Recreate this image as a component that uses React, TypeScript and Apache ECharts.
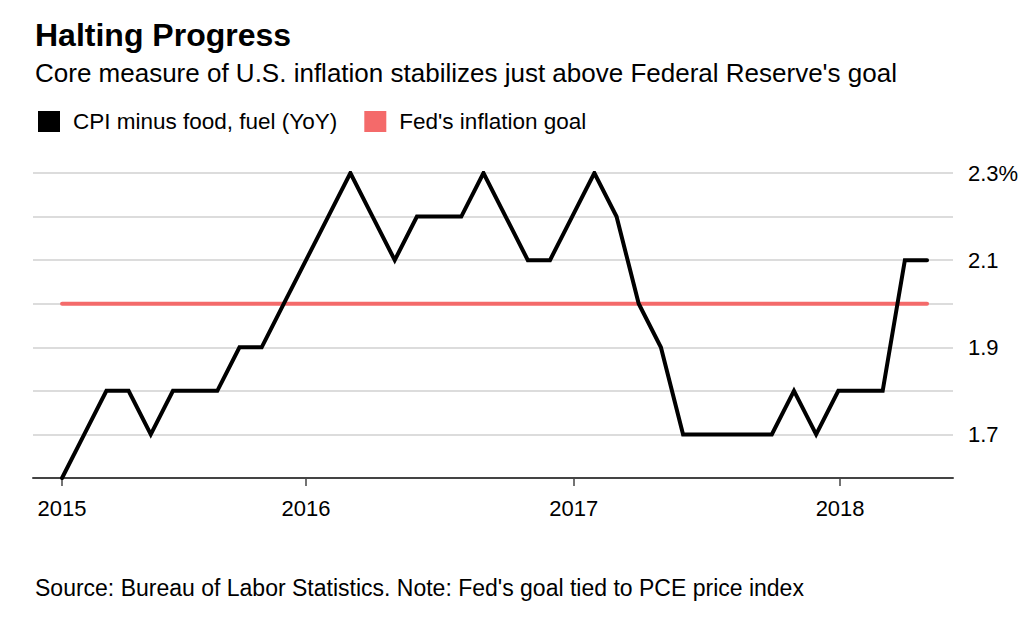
import React, { useEffect, useRef } from "react";
import * as echarts from "echarts";

const months: string[] = [
  "2015-01","2015-02","2015-03","2015-04","2015-05","2015-06","2015-07","2015-08","2015-09","2015-10","2015-11","2015-12",
  "2016-01","2016-02","2016-03","2016-04","2016-05","2016-06","2016-07","2016-08","2016-09","2016-10","2016-11","2016-12",
  "2017-01","2017-02","2017-03","2017-04","2017-05","2017-06","2017-07","2017-08","2017-09","2017-10","2017-11","2017-12",
  "2018-01","2018-02","2018-03","2018-04",
];
const cpiCore: number[] = [
  1.6, 1.7, 1.8, 1.8, 1.7, 1.8, 1.8, 1.8, 1.9, 1.9, 2.0, 2.1,
  2.2, 2.3, 2.2, 2.1, 2.2, 2.2, 2.2, 2.3, 2.2, 2.1, 2.1, 2.2,
  2.3, 2.2, 2.0, 1.9, 1.7, 1.7, 1.7, 1.7, 1.7, 1.8, 1.7, 1.8,
  1.8, 1.8, 2.1, 2.1,
];
const fedGoal: number[] = [2.0, 2.0];
const xTickPositions: number[] = [0, 11, 23.07, 35.08];
const xTickLabels: string[] = ["2015", "2016", "2017", "2018"];
const yLabelValues: number[] = [1.7, 1.9, 2.1, 2.3];

const FONT = "'Liberation Sans', Arial, Helvetica, sans-serif";

export default function App() {
  const ref = useRef<HTMLDivElement>(null);
  useEffect(() => {
    document.body.style.margin = "0";
    const chart = echarts.init(ref.current!, null, { renderer: "svg" });
    const cpiData = cpiCore.map((v, i) => [i, v]);
    const fedData = [
      [0, fedGoal[0]],
      [months.length - 1, fedGoal[1]],
    ];
    chart.setOption({
      animation: false,
      backgroundColor: "#ffffff",
      textStyle: { fontFamily: FONT },
      title: [
        {
          text: "Halting Progress",
          left: 35,
          top: 19,
          padding: 0,
          textStyle: { fontFamily: FONT, fontSize: 32, fontWeight: "bold", color: "#000" },
        },
        {
          text: "Core measure of U.S. inflation stabilizes just above Federal Reserve's goal",
          left: 35,
          top: 60,
          padding: 0,
          textStyle: { fontFamily: FONT, fontSize: 26, fontWeight: "normal", color: "#000" },
        },
        {
          text: "Source: Bureau of Labor Statistics. Note: Fed's goal tied to PCE price index",
          left: 35,
          top: 576,
          padding: 0,
          textStyle: { fontFamily: FONT, fontSize: 23, fontWeight: "normal", color: "#000" },
        },
      ],
      legend: {
        left: 38,
        top: 110,
        padding: 0,
        itemWidth: 22,
        itemHeight: 21,
        itemGap: 27,
        icon: "rect",
        textStyle: { fontFamily: FONT, fontSize: 22.5, color: "#000", padding: [0, 0, 0, 8] },
        data: [
          { name: "CPI minus food, fuel (YoY)", itemStyle: { color: "#000000" } },
          { name: "Fed's inflation goal", itemStyle: { color: "#f46a6a" } },
        ],
      },
      grid: { left: 33, right: 79, top: 173, bottom: 146, containLabel: false },
      xAxis: {
        type: "value",
        min: -1.31,
        max: 40.17,
        axisLine: { show: true, onZero: false, lineStyle: { color: "#444", width: 2 } },
        axisTick: {
          show: true,
          customValues: xTickPositions,
          length: 8,
          lineStyle: { color: "#444", width: 1.5 },
        },
        axisLabel: {
          customValues: xTickPositions,
          formatter: (v: number) => {
            const idx = xTickPositions.findIndex((p) => Math.abs(p - v) < 1e-6);
            return idx >= 0 ? xTickLabels[idx] : "";
          },
          fontFamily: FONT,
          fontSize: 22,
          color: "#000",
          margin: 19,
        },
        splitLine: { show: false },
      },
      yAxis: {
        type: "value",
        position: "right",
        min: 1.6,
        max: 2.3,
        interval: 0.1,
        axisLine: { show: false },
        axisTick: { show: false },
        axisLabel: {
          customValues: yLabelValues,
          formatter: (v: number) => (Math.abs(v - 2.3) < 1e-6 ? "2.3%" : v.toFixed(1)),
          fontFamily: FONT,
          fontSize: 22,
          color: "#000",
          margin: 15,
        },
        splitLine: { show: true, lineStyle: { color: "#dcdcdc", width: 2 } },
      },
      series: [
        {
          name: "Fed's inflation goal",
          type: "line",
          data: fedData,
          showSymbol: false,
          symbol: "none",
          lineStyle: { color: "#f46a6a", width: 4, cap: "round" },
          itemStyle: { color: "#f46a6a" },
          z: 2,
        },
        {
          name: "CPI minus food, fuel (YoY)",
          type: "line",
          data: cpiData,
          showSymbol: false,
          symbol: "none",
          lineStyle: { color: "#000", width: 4, cap: "round", join: "miter" },
          itemStyle: { color: "#000" },
          z: 3,
        },
      ],
    });
    return () => chart.dispose();
  }, []);
  return <div ref={ref} style={{ width: 1032, height: 624 }} />;
}
